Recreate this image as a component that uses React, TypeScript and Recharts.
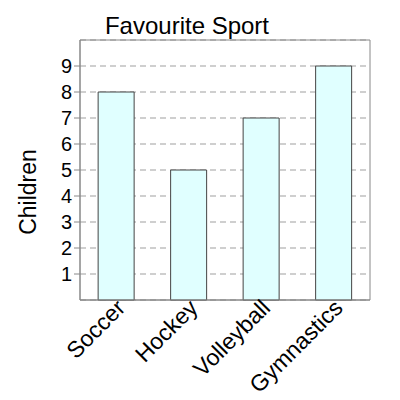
import React from "react";
import { BarChart, Bar, XAxis, YAxis, CartesianGrid, ReferenceArea } from "recharts";

const categories = ["Soccer", "Hockey", "Volleyball", "Gymnastics"];
const children = [8, 5, 7, 9];
const yTicks = [1, 2, 3, 4, 5, 6, 7, 8, 9];
const title = "Favourite Sport";
const yLabel = "Children";

const data = categories.map((c, i) => ({ name: c, value: children[i] }));

const FONT = "'Liberation Sans', Arial, sans-serif";

const XTick = (props: any) => {
  const { x, y, payload } = props;
  return (
    <g transform={`translate(${x - 1},${y - 10})`}>
      <text
        x={0}
        y={0}
        dy={16}
        textAnchor="end"
        transform="rotate(-45)"
        fontSize={23}
        fontFamily={FONT}
        fill="#000"
      >
        {payload.value}
      </text>
    </g>
  );
};

export default function App() {
  return (
    <div style={{ position: "absolute", left: 0, top: 0, width: 400, height: 400, background: "#fff" }}>
      <BarChart
        width={400}
        height={400}
        data={data}
        margin={{ top: 40, right: 30, bottom: 0, left: 0 }}
        barCategoryGap="25%"
      >
        <text x={187} y={34} textAnchor="middle" fontSize={24} fontFamily={FONT} fill="#000">
          {title}
        </text>
        <text
          x={36}
          y={192}
          textAnchor="middle"
          fontSize={23}
          fontFamily={FONT}
          fill="#000"
          transform="rotate(-90, 36, 192)"
        >
          {yLabel}
        </text>
        <CartesianGrid vertical={false} stroke="#c0c0c0" strokeDasharray="6 4" strokeWidth={1.5} />
        <XAxis
          dataKey="name"
          height={100}
          interval={0}
          tick={<XTick />}
          tickLine={false}
          axisLine={{ stroke: "#888" }}
        />
        <YAxis
          width={80}
          domain={[0, 10]}
          ticks={yTicks}
          interval={0}
          tick={{ fontSize: 20, fontFamily: FONT, fill: "#000" }}
          tickLine={{ stroke: "#888" }}
          tickSize={6}
          axisLine={{ stroke: "#888" }}
        />
        <ReferenceArea y1={0} y2={10} fill="none" stroke="#888" strokeWidth={1} ifOverflow="visible" />
        <Bar dataKey="value" fill="#e0ffff" stroke="#444" strokeWidth={1} isAnimationActive={false} />
      </BarChart>
    </div>
  );
}
